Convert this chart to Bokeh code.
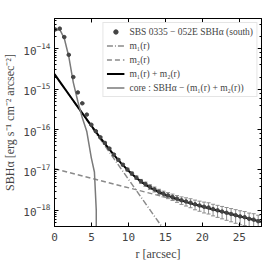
import numpy as np
from bokeh.plotting import figure
from bokeh.models import (LogAxis, LinearAxis, Whisker, TeeHead, ColumnDataSource,
                          Legend, LegendItem, Range1d, CustomJSTickFormatter)
from bokeh.embed import file_html
from bokeh.resources import INLINE

# ---- data ----
r_data = [0.10, 0.71, 1.32, 1.93, 2.54, 3.15, 3.76, 4.37, 4.98, 5.59,
          6.20, 6.81, 7.42, 8.03, 8.64, 9.25, 9.86, 10.47, 11.08, 11.69,
          12.30, 12.91, 13.52, 14.13, 14.74, 15.35, 15.96, 16.57, 17.18, 17.79,
          18.40, 19.01, 19.62, 20.23, 20.84, 21.45, 22.06, 22.67, 23.28, 23.89,
          24.50, 25.11, 25.72, 26.33, 26.94, 27.55]
sb_log = [-13.52, -13.50, -13.71, -14.15, -14.70, -15.08, -15.35, -15.63, -15.88, -16.04,
          -16.19, -16.33, -16.47, -16.62, -16.75, -16.87, -16.99, -17.09, -17.19, -17.28,
          -17.35, -17.42, -17.48, -17.54, -17.59, -17.63, -17.67, -17.71, -17.75, -17.78,
          -17.81, -17.85, -17.88, -17.91, -17.93, -17.97, -18.00, -18.03, -18.06, -18.09,
          -18.12, -18.15, -18.17, -18.21, -18.23, -18.27]
err_frac = [0.03, 0.03, 0.03, 0.03, 0.03, 0.03, 0.03, 0.03, 0.03, 0.04,
            0.04, 0.05, 0.05, 0.06, 0.06, 0.07, 0.08, 0.09, 0.10, 0.11,
            0.12, 0.13, 0.14, 0.15, 0.16, 0.17, 0.18, 0.19, 0.21, 0.23,
            0.25, 0.27, 0.28, 0.30, 0.31, 0.32, 0.33, 0.34, 0.35, 0.36,
            0.37, 0.38, 0.38, 0.39, 0.40, 0.41]

m1_r = [0.0, 28.0]
m1_log = [-14.63, -21.91]
m2_r = [0.0, 28.0]
m2_log = [-16.97, -18.286]
sum_r = [0, 1, 2, 3, 4, 5, 6, 7, 8, 9, 10, 11, 12, 13, 14,
         15, 16, 17, 18, 19, 20, 21, 22, 23, 24, 25, 26, 27, 28]
sum_log = [-14.628, -14.887, -15.145, -15.401, -15.656, -15.908, -16.154, -16.392,
           -16.620, -16.831, -17.021, -17.187, -17.328, -17.444, -17.539, -17.618,
           -17.686, -17.747, -17.802, -17.855, -17.905, -17.954, -18.002, -18.050,
           -18.098, -18.145, -18.192, -18.239, -18.286]
core_r = [0.10, 0.71, 1.32, 1.93, 2.54, 3.15, 3.76, 4.37, 4.98, 5.40, 5.65, 5.75]
core_log = [-13.55, -13.52, -13.74, -14.19, -14.83, -15.30, -15.71, -16.05, -16.70,
            -17.05, -18.0, -30.0]

x_lo, x_hi = 0, 28
y_lo_log, y_hi_log = -18.4, -13.25

sb = 10 ** np.array(sb_log)
err = sb * np.array(err_frac)
src = ColumnDataSource(dict(r=r_data, sb=sb, lo=sb - err, hi=sb + err))

serif = "Liberation Serif"
mono = "DejaVu Sans Mono"

p = figure(frame_width=207, frame_height=208, x_range=Range1d(x_lo, x_hi),
           y_range=Range1d(10 ** y_lo_log, 10 ** y_hi_log), y_axis_type="log",
           output_backend="svg", toolbar_location=None,
           min_border_left=44, min_border_right=2, min_border_top=18, min_border_bottom=4)
p.grid.visible = False
p.outline_line_color = "black"
p.outline_line_width = 1
p.background_fill_color = "white"

# lines
r_m1 = p.line(m1_r, 10 ** np.array(m1_log), line_color="#8a8a8a", line_width=1.5,
              line_dash="6 2 1 2")
r_m2 = p.line(m2_r, 10 ** np.array(m2_log), line_color="#8a8a8a", line_width=1.5,
              line_dash="5 3")
r_sum = p.line(sum_r, 10 ** np.array(sum_log), line_color="black", line_width=2)
r_core = p.line(core_r, 10 ** np.array(core_log), line_color="#7a7a7a", line_width=1.5)

# data with error bars
wh = Whisker(source=src, base="r", upper="hi", lower="lo", dimension="height",
             line_color="#8c8c8c", line_width=1,
             upper_head=TeeHead(size=4, line_color="#8c8c8c", line_width=1),
             lower_head=TeeHead(size=4, line_color="#8c8c8c", line_width=1))
p.add_layout(wh)
r_pts = p.scatter("r", "sb", source=src, size=3.5, color="#444444")
# legend-only glyph (drawn outside the visible range)
r_bar = p.scatter(x=[-50], y=[1e-30], marker="dash", angle=np.pi / 2, size=10,
                  line_color="#8c8c8c", line_width=1)

legend = Legend(items=[
    LegendItem(label="SBS 0335 − 052E SBHα (south)", renderers=[r_bar, r_pts]),
    LegendItem(label="m₁(r)", renderers=[r_m1]),
    LegendItem(label="m₂(r)", renderers=[r_m2]),
    LegendItem(label="m₁(r) + m₂(r)", renderers=[r_sum]),
    LegendItem(label="core : SBHα − (m₁(r) + m₂(r))", renderers=[r_core]),
], location="top_right", margin=4, padding=3, spacing=3, glyph_width=18,
    glyph_height=11, label_height=11, label_standoff=5,
    label_text_font=serif, label_text_font_size="9.5px",
    border_line_color="#cccccc", border_line_width=1,
    background_fill_alpha=0.85)
p.add_layout(legend)

# axes styling
p.xaxis.axis_label = "r [arcsec]"
p.yaxis.axis_label = "SBHα [erg s⁻¹ cm⁻² arcsec⁻²]"
for ax in (p.xaxis[0], p.yaxis[0]):
    ax.axis_label_text_font = serif
    ax.axis_label_text_font_size = "12px"
    ax.axis_label_text_font_style = "normal"
    ax.major_label_text_font = mono
    ax.major_label_text_font_size = "11px"
    ax.major_tick_in = 4
    ax.major_tick_out = 0
    ax.minor_tick_in = 2
    ax.minor_tick_out = 0
    ax.axis_label_standoff = 3
    ax.major_label_standoff = 4
p.xaxis.minor_tick_line_color = None
p.xaxis.ticker.desired_num_ticks = 6
p.xaxis.major_label_standoff = 6

blank = CustomJSTickFormatter(code="return ''")
top = LinearAxis(major_tick_in=4, major_tick_out=0, minor_tick_line_color=None,
                 formatter=blank, major_label_standoff=0)
top.ticker = p.xaxis[0].ticker
right = LogAxis(major_tick_in=4, major_tick_out=0, minor_tick_in=2, minor_tick_out=0,
                formatter=CustomJSTickFormatter(code="return ''"), major_label_standoff=0)
p.add_layout(top, "above")
p.add_layout(right, "right")

open("out.html", "w").write(file_html(p, INLINE))
